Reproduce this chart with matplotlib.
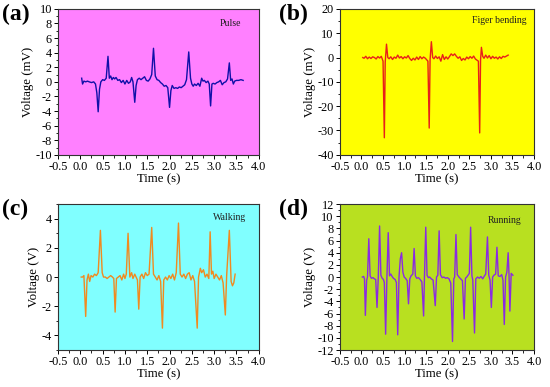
import numpy as np
import matplotlib
matplotlib.use("Agg")
import matplotlib.pyplot as plt
from matplotlib.ticker import MultipleLocator, AutoMinorLocator

plt.rcParams['font.family'] = ['Liberation Serif', 'DejaVu Serif']
plt.rcParams['axes.unicode_minus'] = False

# ---- Data ----
pulse_t = [0.03, 0.05, 0.08, 0.12, 0.16, 0.20, 0.25, 0.30, 0.34, 0.37, 0.40, 0.43, 0.46, 0.50, 0.54,
           0.58, 0.62, 0.65, 0.68, 0.71, 0.74, 0.77, 0.80, 0.84, 0.88, 0.92, 0.96, 1.00, 1.04, 1.08,
           1.12, 1.15, 1.18, 1.22, 1.25, 1.28, 1.32, 1.36, 1.40, 1.44, 1.48, 1.52, 1.56, 1.60, 1.64,
           1.68, 1.72, 1.76, 1.80, 1.84, 1.88, 1.92, 1.96, 2.00, 2.03, 2.06, 2.10, 2.14, 2.18, 2.22,
           2.26, 2.30, 2.34, 2.38, 2.43, 2.47, 2.50, 2.53, 2.56, 2.60, 2.64, 2.68, 2.72, 2.75, 2.78,
           2.82, 2.86, 2.89, 2.92, 2.95, 2.98, 3.02, 3.06, 3.10, 3.14, 3.18, 3.22, 3.26, 3.30, 3.34,
           3.37, 3.40, 3.43, 3.46, 3.50, 3.55, 3.60, 3.65]
pulse_v = [0.5, -0.3, 0.1, 0.0, 0.1, 0.0, -0.1, 0.0, -0.3, -1.5, -4.1, -1.0, 0.0, 0.3, 0.2,
           0.5, 3.5, 0.5, 0.8, 0.3, 0.6, 0.4, 0.6, 0.2, 0.3, -0.1, 0.2, -0.3, 0.2, -0.2,
           0.0, 0.6, 0.0, -2.8, -0.5, 0.3, 0.5, 0.3, 0.5, 0.7, 0.2, 0.1, 0.4, 1.0, 4.6,
           0.8, 0.3, 0.2, -0.1, -0.3, -0.6, -0.5, -0.8, -3.5, -1.2, -0.5, -0.9, -0.8, -0.9, -0.7,
           -0.8, -0.6, -0.4, 0.3, 4.1, 0.5, -0.3, -0.6, -0.3, -0.5, -0.2, -0.6, 0.5, 0.1, 0.2,
           -0.1, 0.1, -0.3, -3.3, -0.3, -0.2, -0.3, -0.1, 0.0, 0.2, -0.4, -0.1, 0.0, 0.4, 2.6,
           0.2, 0.4, -0.3, 0.1, 0.2, 0.2, 0.3, 0.2]

bend_t = [0.03, 0.06, 0.10, 0.14, 0.18, 0.22, 0.26, 0.30, 0.34, 0.38, 0.42, 0.46, 0.50, 0.53, 0.55,
          0.58, 0.61, 0.64, 0.68, 0.72, 0.76, 0.80, 0.84, 0.88, 0.92, 0.96, 1.00, 1.04, 1.08, 1.12,
          1.16, 1.20, 1.24, 1.28, 1.32, 1.36, 1.40, 1.44, 1.48, 1.54, 1.57, 1.59, 1.62, 1.65, 1.68,
          1.72, 1.76, 1.80, 1.84, 1.88, 1.92, 1.96, 2.00, 2.04, 2.08, 2.12, 2.16, 2.20, 2.24, 2.28,
          2.32, 2.36, 2.40, 2.44, 2.48, 2.52, 2.56, 2.60, 2.64, 2.71, 2.74, 2.76, 2.78, 2.81, 2.84,
          2.88, 2.92, 2.96, 3.00, 3.04, 3.08, 3.12, 3.16, 3.20, 3.24, 3.28, 3.32, 3.36, 3.40]
bend_v = [0.0, -0.3, 0.5, -0.5, 0.2, -0.4, 0.3, 0.0, -0.6, 0.4, -0.2, 0.5, -1.5, -33.0, -2.0,
          5.5, 0.0, -0.5, 0.3, -0.8, 0.2, -0.3, 1.0, -0.2, 0.4, -0.5, 0.3, -0.2, 0.8, -0.4,
          -1.2, -0.3, -1.0, 0.2, -0.8, 0.4, -0.5, 0.2, -0.3, -1.5, -29.0, -1.0, 6.5, 0.0, -0.5,
          0.6, -0.4, 0.3, -1.5, 1.2, -0.8, 0.3, -0.6, 0.4, 1.5, 0.8, 1.5, 0.5, -0.3, 0.3,
          -1.2, -0.4, -1.0, 0.2, -0.5, 0.4, -0.3, 0.6, -0.6, -1.5, -31.0, -1.0, 4.2, 0.5, -0.3,
          1.0, -0.2, 0.8, -0.5, 0.5, -0.3, 0.2, -0.6, 0.3, -0.4, 0.5, 0.2, 0.6, 1.0]

walk_t = [0.02, 0.05, 0.08, 0.12, 0.15, 0.18, 0.21, 0.24, 0.28, 0.32, 0.36, 0.40, 0.45, 0.49, 0.52,
          0.56, 0.60, 0.64, 0.68, 0.72, 0.75, 0.78, 0.81, 0.85, 0.89, 0.93, 0.97, 1.00, 1.03, 1.07,
          1.11, 1.15, 1.18, 1.22, 1.25, 1.28, 1.31, 1.34, 1.38, 1.42, 1.46, 1.50, 1.54, 1.60, 1.64,
          1.68, 1.72, 1.76, 1.80, 1.84, 1.87, 1.91, 1.95, 1.99, 2.03, 2.07, 2.11, 2.15, 2.20, 2.24,
          2.28, 2.32, 2.36, 2.40, 2.44, 2.48, 2.52, 2.56, 2.62, 2.65, 2.69, 2.72, 2.76, 2.80, 2.84,
          2.88, 2.91, 2.94, 2.97, 3.00, 3.04, 3.08, 3.12, 3.16, 3.20, 3.25, 3.28, 3.34, 3.38, 3.41,
          3.44, 3.47]
walk_v = [0.0, 0.0, 0.1, -2.7, -0.2, 0.2, -0.3, 0.1, 0.0, 0.2, 0.1, 0.3, 3.2, 0.3, 0.0,
          0.0, -0.1, 0.0, 0.1, 0.0, -0.1, -2.4, -0.1, 0.0, 0.1, -0.2, 0.2, -0.1, 0.2, 3.0,
          0.0, 0.3, -0.1, 0.2, 0.0, -0.2, -2.2, 0.0, 0.2, -0.1, 0.3, 0.1, 0.2, 3.4, 0.2,
          0.0, -0.2, 0.1, -0.3, -3.5, -0.2, 0.0, -0.2, 0.1, -0.1, 0.2, -0.2, 0.3, 3.7, 0.2,
          0.0, 0.2, -0.1, 0.2, 0.3, -0.2, 0.1, -0.3, -3.5, 0.0, 0.6, 0.3, 0.5, 0.0, 0.2,
          -0.1, 3.1, 0.2, 0.4, -0.1, 0.2, 0.0, -0.2, 0.1, -0.4, -2.6, 0.1, 3.2, -0.3, -0.6,
          -0.4, 0.2]

run_t = [0.02, 0.05, 0.07, 0.09, 0.12, 0.14, 0.17, 0.20, 0.23, 0.27, 0.30, 0.33, 0.36, 0.39, 0.42,
         0.45, 0.48, 0.51, 0.53, 0.56, 0.59, 0.62, 0.65, 0.68, 0.71, 0.74, 0.78, 0.81, 0.84, 0.87,
         0.90, 0.93, 0.96, 0.99, 1.02, 1.06, 1.09, 1.12, 1.15, 1.19, 1.22, 1.25, 1.28, 1.32, 1.36,
         1.40, 1.44, 1.46, 1.49, 1.52, 1.55, 1.58, 1.62, 1.66, 1.71, 1.74, 1.77, 1.80, 1.83, 1.87,
         1.91, 1.95, 1.99, 2.03, 2.07, 2.11, 2.14, 2.16, 2.19, 2.22, 2.26, 2.30, 2.34, 2.38, 2.41,
         2.44, 2.47, 2.50, 2.53, 2.56, 2.58, 2.62, 2.65, 2.69, 2.73, 2.77, 2.81, 2.85, 2.88, 2.92,
         2.95, 2.98, 3.01, 3.04, 3.07, 3.11, 3.14, 3.17, 3.21, 3.25, 3.28, 3.31, 3.34, 3.37, 3.40,
         3.42, 3.44, 3.47, 3.51]
run_v = [0.0, 0.1, -0.3, -6.3, -0.5, 0.0, 6.3, 0.2, -0.2, -0.1, -0.3, -0.4, -5.0, 0.0, 8.4,
         0.3, -0.2, -0.4, -0.9, -9.4, 0.0, 7.3, 0.2, 0.5, 0.1, -0.2, -0.4, -0.9, -9.5, 0.0,
         3.0, 4.0, 0.8, 0.0, -0.2, -0.6, -4.4, -0.3, 0.2, 0.5, 4.7, 0.2, -0.2, -0.1, -0.4,
         -0.8, -6.4, 0.0, 8.2, 0.3, -0.1, 0.0, -0.3, -0.5, -4.7, 0.0, 0.3, 7.6, 0.4, -0.1,
         0.0, -0.2, -0.1, -0.3, -1.0, -10.6, -0.3, 0.0, 7.0, 0.4, 0.0, -0.3, -0.6, -6.9, -0.2,
         0.0, 0.3, 0.6, 8.2, 0.2, -0.5, -9.2, -0.3, 0.0, -0.2, 0.1, -0.3, 0.2, 0.5, 6.6,
         0.3, -0.5, -5.0, 0.0, 0.3, 0.5, 4.9, 0.2, 0.1, 0.4, -0.5, -7.8, 0.0, 0.8, 4.0,
         0.3, -5.6, 0.6, 0.3]

x_ticks = [-0.5, 0.0, 0.5, 1.0, 1.5, 2.0, 2.5, 3.0, 3.5, 4.0]

panels = [
    dict(t=pulse_t, v=pulse_v, bg='#FF80FF', lc='#1010A8', ylim=(-10, 10), ystep=2,
         ylabel='Voltage (mV)', name='Pulse', tag='(a)', namepos=(0.86, 0.90)),
    dict(t=bend_t, v=bend_v, bg='#FFFF00', lc='#E8201A', ylim=(-40, 20), ystep=10,
         ylabel='Voltage (mV)', name='Figer bending', tag='(b)', namepos=(0.82, 0.92)),
    dict(t=walk_t, v=walk_v, bg='#80FFFF', lc='#F08A20', ylim=(-5, 5), ystep=2,
         ylabel='Voltage (V)', name='Walking', tag='(c)', namepos=(0.855, 0.91)),
    dict(t=run_t, v=run_v, bg='#B8E020', lc='#8A2BE2', ylim=(-12, 12), ystep=2,
         ylabel='Voltage (V)', name='Running', tag='(d)', namepos=(0.85, 0.89)),
]

fig = plt.figure(figsize=(5.5, 3.87), dpi=100)
positions = [
    [0.1055, 0.600, 0.365, 0.377],
    [0.618, 0.600, 0.353, 0.377],
    [0.1055, 0.0956, 0.365, 0.377],
    [0.618, 0.0956, 0.353, 0.377],
]
tag_pos = [(0.003, 0.99), (0.508, 0.99), (0.003, 0.487), (0.508, 0.487)]

for p, pos, tp in zip(panels, positions, tag_pos):
    ax = fig.add_axes(pos)
    ax.set_facecolor(p['bg'])
    ax.plot(p['t'], p['v'], color=p['lc'], lw=1.0)
    ax.set_xlim(-0.5, 4.0)
    ax.set_ylim(*p['ylim'])
    ax.set_xticks(x_ticks)
    ax.set_xticklabels([f'{x:.1f}' for x in x_ticks])
    ax.yaxis.set_major_locator(MultipleLocator(p['ystep']))
    ax.xaxis.set_minor_locator(AutoMinorLocator(2))
    ax.yaxis.set_minor_locator(AutoMinorLocator(2))
    ax.tick_params(which='major', direction='out', length=3, width=0.7, labelsize=8.8, pad=1.5)
    ax.tick_params(which='minor', direction='out', length=1.8, width=0.6)
    for s in ax.spines.values():
        s.set_linewidth(0.8)
        s.set_color('#333333')
    ax.set_xlabel('Time (s)', fontsize=9.3, labelpad=0)
    ax.set_ylabel(p['ylabel'], fontsize=9.3, labelpad=1)
    ax.text(p['namepos'][0], p['namepos'][1], p['name'], transform=ax.transAxes,
            fontsize=7, ha='center', va='center', color='#202020')
    fig.text(tp[0], tp[1], p['tag'], fontsize=17, fontweight='bold', ha='left', va='top')

fig.savefig('out.png', dpi=100)
